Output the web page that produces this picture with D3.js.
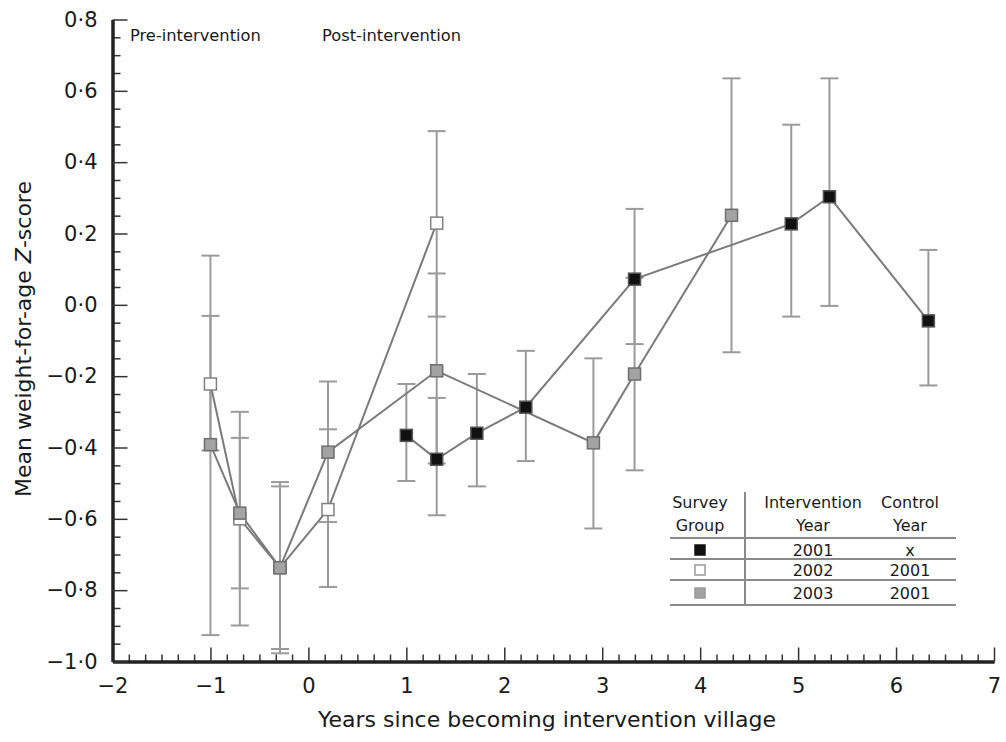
<!DOCTYPE html>
<html><head><meta charset="utf-8">
<script src="https://cdn.jsdelivr.net/npm/d3@7"></script>
<style>
body{margin:0;background:#fff;}
text{font-family:"DejaVu Sans",sans-serif;fill:#1a1a1a;}
</style></head>
<body><svg id="c" width="1006" height="742"></svg>
<script>
// ---- data ----
const blackX  = [1.0, 1.31, 1.72, 2.22, 3.33, 4.93, 5.32, 6.33];
const blackY  = [-0.366, -0.433, -0.36, -0.287, 0.072, 0.227, 0.303, -0.045];
const blackLo = [-0.494, -0.59, -0.509, -0.438, -0.11, -0.033, -0.003, -0.226];
const blackHi = [-0.222, -0.261, -0.194, -0.129, 0.269, 0.505, 0.635, 0.154];

const whiteX  = [-1.0, -0.7, -0.29, 0.2, 1.31];
const whiteY  = [-0.222, -0.60, -0.737, -0.574, 0.229];
const whiteLo = [-0.408, -0.899, -0.965, -0.791, -0.033];
const whiteHi = [-0.031, -0.30, -0.509, -0.349, 0.487];

const grayX  = [-1.0, -0.7, -0.29, 0.2, 1.31, 2.91, 3.33, 4.32];
const grayY  = [-0.392, -0.584, -0.737, -0.413, -0.185, -0.387, -0.194, 0.251];
const grayLo = [-0.926, -0.795, -0.977, -0.609, -0.445, -0.627, -0.464, -0.133];
const grayHi = [0.138, -0.373, -0.497, -0.215, 0.088, -0.15, 0.076, 0.635];

const xTicks = [-2, -1, 0, 1, 2, 3, 4, 5, 6, 7];
const yTicks = [-1.0, -0.8, -0.6, -0.4, -0.2, 0.0, 0.2, 0.4, 0.6, 0.8];

const legendGroups = ["black", "white", "gray"];
const legendIntervention = ["2001", "2002", "2003"];
const legendControl = ["x", "2001", "2001"];

const xTitle = "Years since becoming intervention village";
const phaseLabels = ["Pre-intervention", "Post-intervention"];

// ---- chart ----
const svg = d3.select("#c");
const x = d3.scaleLinear().domain([-2, 7]).range([112.5, 994]);
const y = d3.scaleLinear().domain([-1.0, 0.8]).range([661.5, 19.5]);

const fmt = v => d3.format(".1f")(v).replace(".", "·").replace("-", "−");

// minor ticks
const xMinor = d3.range(-12, 43).map(i => i / 6).filter(v => Math.abs(v - Math.round(v)) > 1e-6);
const yMinor = d3.range(-20, 17).map(i => i / 20).filter(v => Math.abs(v * 5 - Math.round(v * 5)) > 1e-6);

const axStyle = g => {
  g.selectAll(".tick line").attr("stroke", "#333").attr("stroke-width", 1.5);
  g.select(".domain").attr("stroke", "#222").attr("stroke-width", 3);
};

svg.append("g").attr("transform", "translate(0,661.5)")
  .call(d3.axisBottom(x).tickValues(xMinor).tickSize(-7).tickSizeOuter(0).tickFormat(""))
  .call(axStyle);
svg.append("g").attr("transform", "translate(112.5,0)")
  .call(d3.axisLeft(y).tickValues(yMinor).tickSize(-8).tickSizeOuter(0).tickFormat(""))
  .call(axStyle);

const gx = svg.append("g").attr("transform", "translate(0,661.5)")
  .call(d3.axisBottom(x).tickValues(xTicks).tickSize(-14).tickSizeOuter(0).tickPadding(17)
    .tickFormat(v => String(v).replace("-", "−")))
  .call(axStyle);
gx.selectAll("text").attr("font-size", 21).attr("font-family", "DejaVu Sans").attr("fill", "#1a1a1a");

const gy = svg.append("g").attr("transform", "translate(112.5,0)")
  .call(d3.axisLeft(y).tickValues(yTicks).tickSize(-15).tickSizeOuter(0).tickPadding(15).tickFormat(fmt))
  .call(axStyle);
gy.selectAll("text").attr("font-size", 21).attr("font-family", "DejaVu Sans").attr("fill", "#1a1a1a");

// titles
svg.append("text").attr("x", 547).attr("y", 727).attr("text-anchor", "middle")
  .attr("font-size", 22).text(xTitle);
const yt = svg.append("text").attr("transform", "translate(31,339) rotate(-90)")
  .attr("text-anchor", "middle").attr("font-size", 22);
yt.append("tspan").text("Mean weight-for-age ");
yt.append("tspan").attr("font-style", "italic").text("Z");
yt.append("tspan").text("-score");

svg.append("text").attr("x", 130).attr("y", 41).attr("font-size", 16.3).text(phaseLabels[0]);
svg.append("text").attr("x", 322).attr("y", 41).attr("font-size", 16.3).text(phaseLabels[1]);

// series
const styles = {
  white: {fill: "#ffffff", stroke: "#808080"},
  gray:  {fill: "#a3a3a3", stroke: "#6e6e6e"},
  black: {fill: "#111111", stroke: "#555555"}
};
const series = [
  {key: "white", xs: whiteX, ys: whiteY, lo: whiteLo, hi: whiteHi},
  {key: "gray",  xs: grayX,  ys: grayY,  lo: grayLo,  hi: grayHi},
  {key: "black", xs: blackX, ys: blackY, lo: blackLo, hi: blackHi}
];

const line = d3.line().x(d => x(d.x)).y(d => y(d.y));
const cap = 9;

// error bars for all series first
series.forEach(s => {
  const pts = s.xs.map((v, i) => ({x: v, y: s.ys[i], lo: s.lo[i], hi: s.hi[i]}));
  const g = svg.append("g").attr("stroke", "#9a9a9a").attr("stroke-width", 2);
  g.selectAll("line.v").data(pts).join("line")
    .attr("x1", d => x(d.x)).attr("x2", d => x(d.x))
    .attr("y1", d => y(d.lo)).attr("y2", d => y(d.hi));
  g.selectAll("line.t").data(pts).join("line").attr("class", "t")
    .attr("x1", d => x(d.x) - cap).attr("x2", d => x(d.x) + cap)
    .attr("y1", d => y(d.hi)).attr("y2", d => y(d.hi));
  g.selectAll("line.b").data(pts).join("line").attr("class", "b")
    .attr("x1", d => x(d.x) - cap).attr("x2", d => x(d.x) + cap)
    .attr("y1", d => y(d.lo)).attr("y2", d => y(d.lo));
});

series.forEach(s => {
  const pts = s.xs.map((v, i) => ({x: v, y: s.ys[i]}));
  svg.append("path").datum(pts).attr("d", line)
    .attr("fill", "none").attr("stroke", "#7a7a7a").attr("stroke-width", 2);
});
series.forEach(s => {
  const pts = s.xs.map((v, i) => ({x: v, y: s.ys[i]}));
  const st = styles[s.key];
  svg.append("g").selectAll("rect").data(pts).join("rect")
    .attr("x", d => x(d.x) - 6).attr("y", d => y(d.y) - 6)
    .attr("width", 12).attr("height", 12)
    .attr("fill", st.fill).attr("stroke", st.stroke).attr("stroke-width", 1.5);
});

// legend table
const lg = svg.append("g");
const lineYs = [538, 559, 580, 605];
lineYs.forEach(ly => lg.append("line").attr("x1", 670).attr("x2", 956).attr("y1", ly).attr("y2", ly)
  .attr("stroke", "#8a8a8a").attr("stroke-width", 2));
lg.append("line").attr("x1", 745).attr("x2", 745).attr("y1", 492).attr("y2", 605)
  .attr("stroke", "#8a8a8a").attr("stroke-width", 2);
const hdr = [["Survey", "Group", 700], ["Intervention", "Year", 813], ["Control", "Year", 910]];
hdr.forEach(h => {
  lg.append("text").attr("x", h[2]).attr("y", 508).attr("text-anchor", "middle").attr("font-size", 16).text(h[0]);
  lg.append("text").attr("x", h[2]).attr("y", 531).attr("text-anchor", "middle").attr("font-size", 16).text(h[1]);
});
const rowYs = [550, 570, 593];
legendGroups.forEach((k, i) => {
  const st = styles[k];
  lg.append("rect").attr("x", 695).attr("y", rowYs[i] - 5).attr("width", 10).attr("height", 10)
    .attr("fill", st.fill).attr("stroke", k === "black" ? "#111" : "#999").attr("stroke-width", 1.5);
  lg.append("text").attr("x", 813).attr("y", rowYs[i] + 6).attr("text-anchor", "middle").attr("font-size", 16).text(legendIntervention[i]);
  lg.append("text").attr("x", 910).attr("y", rowYs[i] + 6).attr("text-anchor", "middle").attr("font-size", 16).text(legendControl[i]);
});
</script></body></html>
